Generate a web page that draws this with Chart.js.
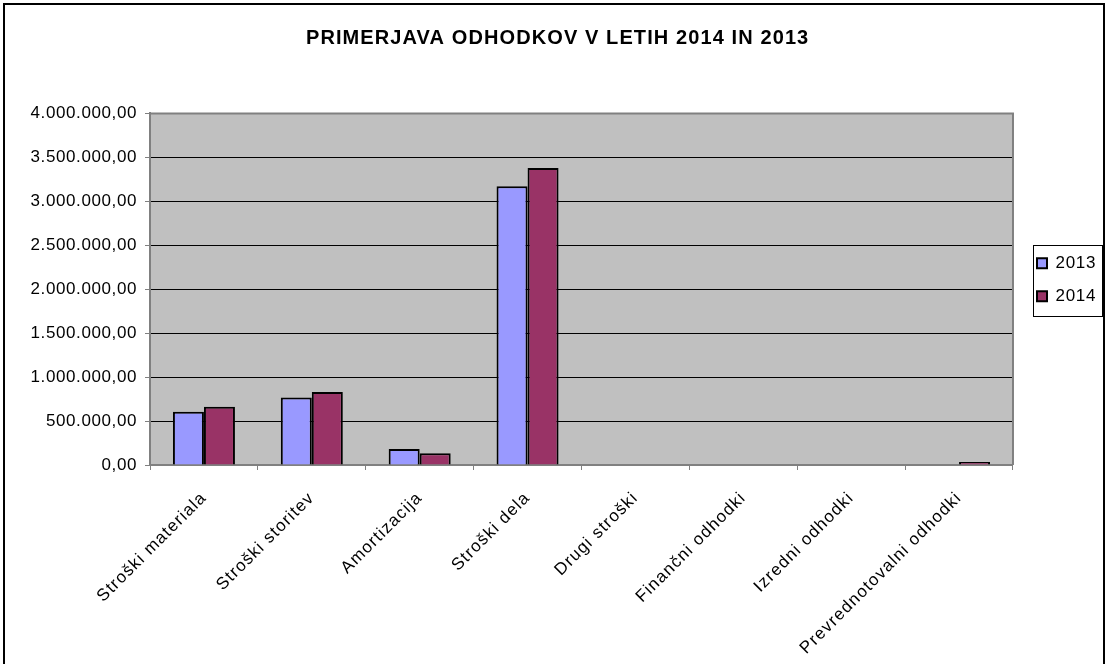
<!DOCTYPE html>
<html>
<head>
<meta charset="utf-8">
<style>
  html, body { margin: 0; padding: 0; background: #fff; overflow: hidden; }
  #wrap { position: absolute; left: 0; top: 0; width: 1106px; height: 664px; }
</style>
<script src="https://cdn.jsdelivr.net/npm/chart.js@4.4.1/dist/chart.umd.min.js"></script>
</head>
<body>
<div id="wrap"><canvas id="c" width="1106" height="664"></canvas></div>
<script>
const chartTitle = 'PRIMERJAVA ODHODKOV V LETIH 2014 IN 2013';
const categories = ['Stroški materiala', 'Stroški storitev', 'Amortizacija', 'Stroški dela',
                    'Drugi stroški', 'Finančni odhodki', 'Izredni odhodki', 'Prevrednotovalni odhodki'];
const seriesNames = ['2013', '2014'];
const values2013 = [606000, 769000, 182000, 3170000, 0, 0, 0, 0];
const values2014 = [663000, 830000, 133000, 3380000, 0, 0, 0, 35000];
const yMin = 0, yMax = 4000000, yStep = 500000;

function fmtNum(v) {
  const neg = v < 0; v = Math.abs(v);
  const ip = Math.floor(v).toString().replace(/\B(?=(\d{3})+(?!\d))/g, '.');
  const fp = Math.round((v - Math.floor(v)) * 100).toString().padStart(2, '0');
  return (neg ? '-' : '') + ip + ',' + fp;
}

const FONT = "'Liberation Sans', Arial, sans-serif";

function withSpacing(obj, method, spacing, dx) {
  if (!obj || obj['__p_' + method]) return;
  const orig = obj[method].bind(obj);
  obj[method] = function () {
    const ctx = obj.ctx;
    ctx.save();
    try { ctx.letterSpacing = spacing; } catch (e) {}
    if (dx) ctx.translate(dx, 0);
    const r = orig.apply(null, arguments);
    ctx.restore();
    return r;
  };
  obj['__p_' + method] = true;
}

const framePlugin = {
  id: 'framePlugin',
  afterLayout(chart) {
    const lg = chart.legend;
    if (lg) {
      const w = lg.width;
      lg.left = chart.chartArea.right + 8;
      lg.right = lg.left + w;
      lg.top -= 9.5;
      lg.bottom -= 9.5;
    }
  },
  beforeDraw(chart) {
    withSpacing(chart.titleBlock, 'draw', '1.1px', 10);
    withSpacing(chart.legend, 'draw', '0.7px', 0);
    withSpacing(chart.scales.x, 'drawLabels', '1.2px', 0);
    withSpacing(chart.scales.y, 'drawLabels', '0.6px', 0);
    const {ctx, chartArea: a} = chart;
    ctx.save();
    ctx.fillStyle = '#ffffff';
    ctx.fillRect(0, 0, chart.width, chart.height);
    ctx.fillStyle = '#c0c0c0';
    ctx.fillRect(a.left, a.top, a.right - a.left, a.bottom - a.top);
    ctx.restore();
  },
  beforeDatasetsDraw(chart) {
    const {ctx, chartArea: a} = chart;
    ctx.save();
    ctx.strokeStyle = '#808080';
    ctx.lineWidth = 2;
    ctx.beginPath();
    ctx.moveTo(a.left, a.top);
    ctx.lineTo(a.right, a.top);
    ctx.lineTo(a.right, a.bottom);
    ctx.stroke();
    ctx.restore();
  },
  afterDraw(chart) {
    const ctx = chart.ctx;
    ctx.save();
    ctx.strokeStyle = '#000';
    ctx.lineWidth = 2;
    ctx.strokeRect(4, 4, 1100, 690);
    const lg = chart.legend;
    if (lg) {
      const fl = lg.left + 12.5;
      ctx.lineWidth = 1;
      ctx.strokeStyle = '#000';
      ctx.strokeRect(Math.round(fl) + 0.5, 245.5, 69, 71);
    }
    ctx.restore();
  }
};

const chart = new Chart(document.getElementById('c'), {
  type: 'bar',
  data: {
    labels: categories,
    datasets: [
      { label: seriesNames[0], data: values2013, backgroundColor: '#9999ff', borderColor: '#000', borderWidth: 2, borderSkipped: 'start' },
      { label: seriesNames[1], data: values2014, backgroundColor: '#993366', borderColor: '#000', borderWidth: 2, borderSkipped: 'start' }
    ]
  },
  options: {
    responsive: false,
    animation: false,
    devicePixelRatio: 1,
    layout: { padding: { left: 0, right: 10.7, top: 0, bottom: 0 } },
    datasets: { bar: { categoryPercentage: 0.575, barPercentage: 1 } },
    plugins: {
      title: {
        display: true,
        text: chartTitle,
        color: '#000',
        font: { family: FONT, size: 20, weight: 'bold' },
        padding: { top: 26, bottom: 63.4 }
      },
      legend: {
        display: true,
        position: 'right',
        align: 'center',
        fullSize: false,
        labels: {
          color: '#000',
          font: { family: FONT, size: 17 },
          boxWidth: 10,
          boxHeight: 10,
          padding: 16
        }
      },
      tooltip: { enabled: false }
    },
    scales: {
      x: {
        grid: { display: true, drawOnChartArea: false, drawTicks: true, tickLength: 5, offset: true, color: '#808080', lineWidth: 1 },
        border: { display: true, color: '#808080', width: 2 },
        ticks: {
          color: '#000',
          font: { family: FONT, size: 17 },
          maxRotation: 45, minRotation: 45,
          autoSkip: false,
          padding: 18
        },
        afterFit(s) { s.height = 664 - 465; }
      },
      y: {
        min: yMin, max: yMax,
        grid: { display: true, drawOnChartArea: true, drawTicks: true, tickLength: 5, color: '#000', tickColor: '#808080', lineWidth: 1 },
        border: { display: true, color: '#808080', width: 2 },
        ticks: {
          stepSize: yStep,
          color: '#000',
          font: { family: FONT, size: 17 },
          padding: 8,
          callback: (v) => fmtNum(v)
        },
        afterFit(s) { s.width = 150; }
      }
    }
  },
  plugins: [framePlugin]
});
chart.draw();
</script>
</body>
</html>
